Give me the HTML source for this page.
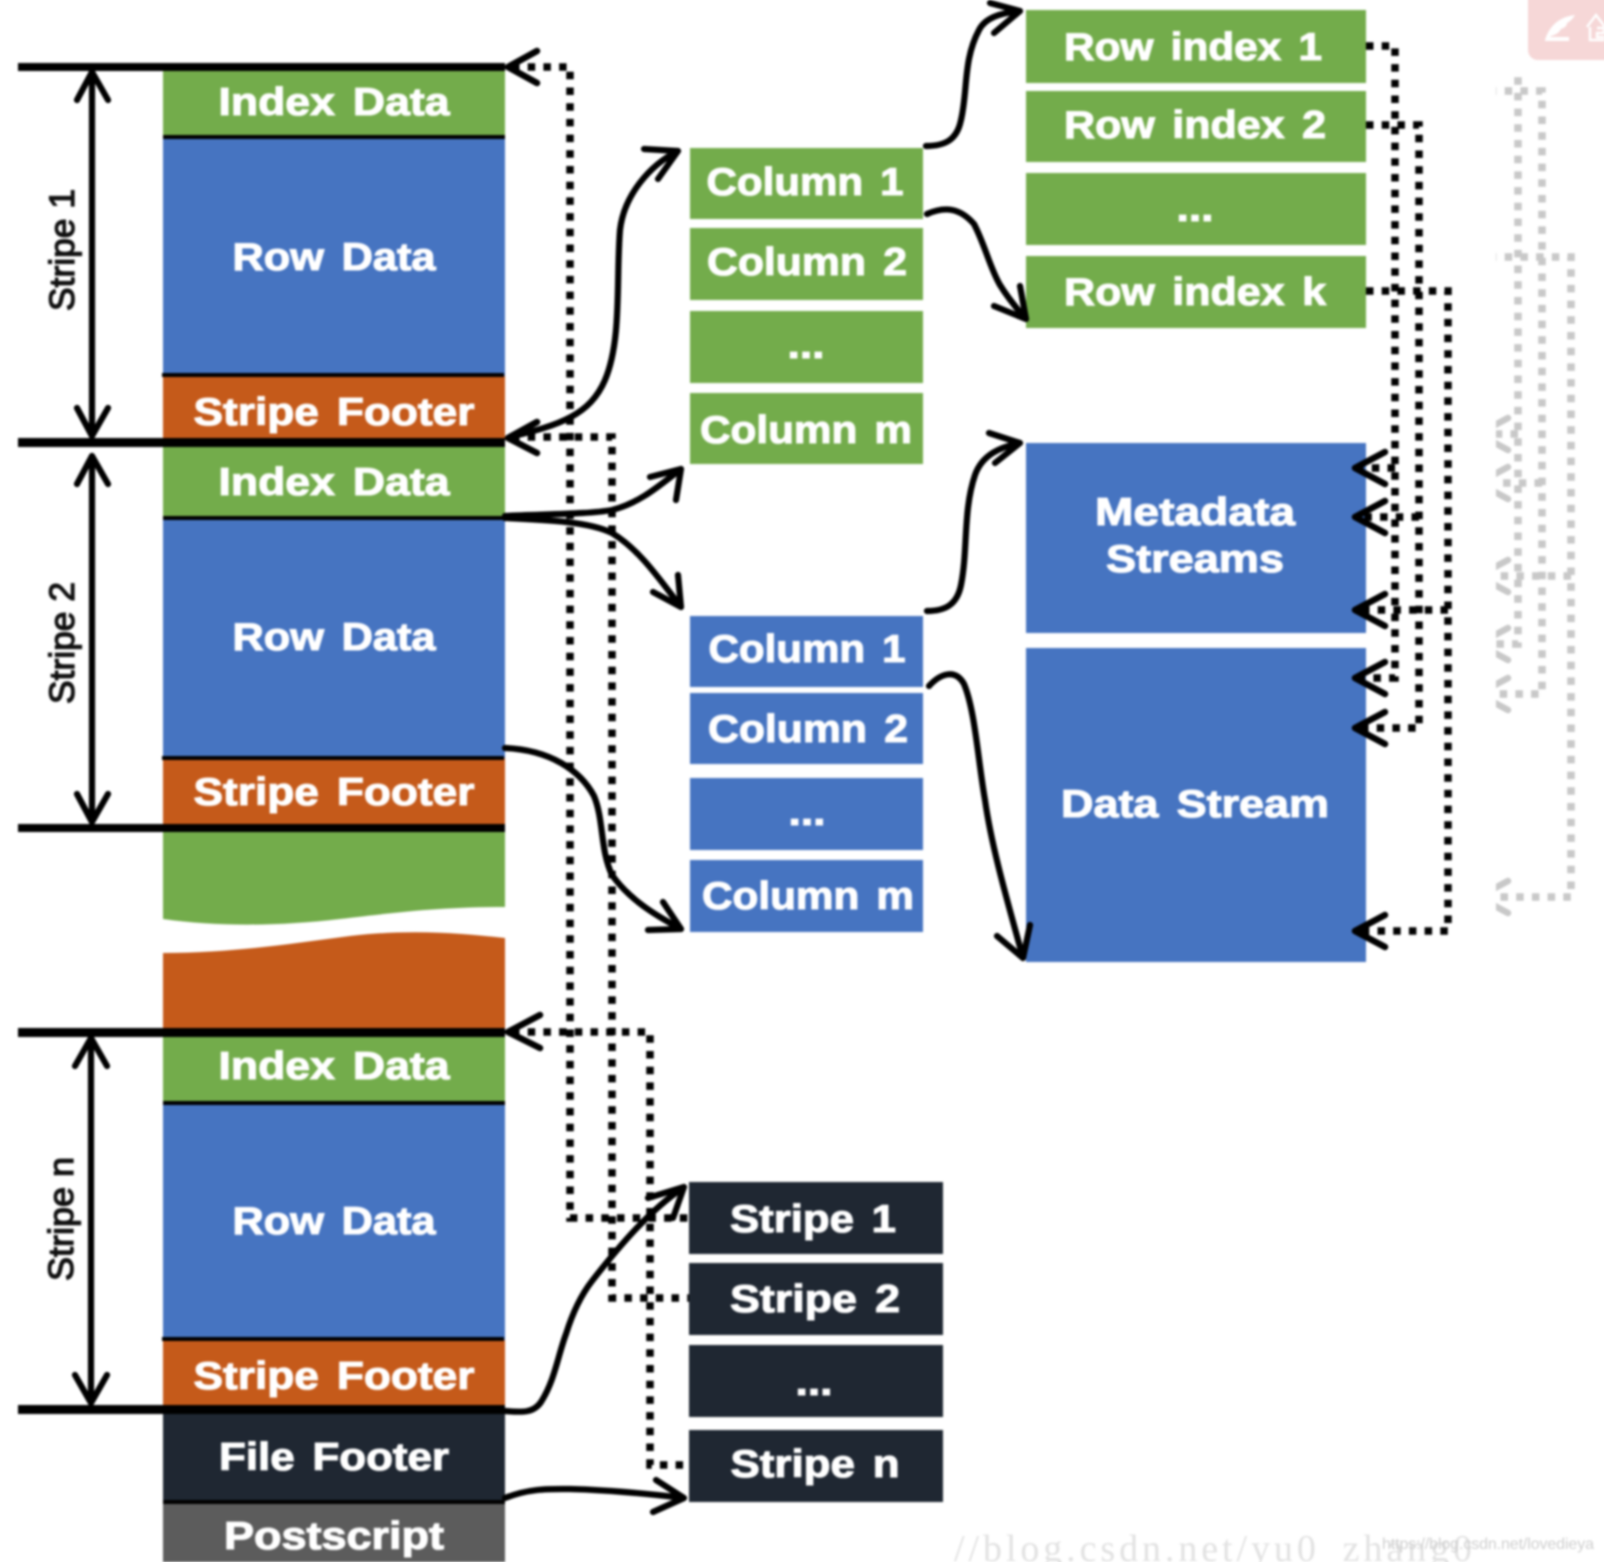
<!DOCTYPE html>
<html><head><meta charset="utf-8"><style>
html,body{margin:0;padding:0;background:#fff;width:1604px;height:1562px;overflow:hidden}
svg{display:block}
.w{font:bold 39px "Liberation Sans",sans-serif;fill:#fff;stroke:#fff;stroke-width:1.1;text-anchor:middle;word-spacing:5px}
.s{font:35px "Liberation Sans",sans-serif;fill:#111;stroke:#111;stroke-width:1.3;text-anchor:middle}
.dot{fill:none;stroke-width:7.5;stroke-dasharray:7.5 8.2}
.h{fill:none;stroke-width:6.5;stroke-linecap:round;stroke-linejoin:round}
.c{fill:none;stroke:#000;stroke-width:6.2;stroke-linecap:round;stroke-linejoin:round}
</style></head><body>
<svg width="1604" height="1562" viewBox="0 0 1604 1562" xmlns="http://www.w3.org/2000/svg">
<defs><clipPath id="gc"><rect x="1496" y="72" width="108" height="1000"/></clipPath></defs>
<g style="filter:blur(1px)">
<!-- watermark -->
<text x="954" y="1561" font-family="Liberation Serif,serif" font-size="38" fill="#e2e2e2" textLength="518">//blog.csdn.net/yu0_zhang0</text>
<text x="1382" y="1549" font-family="Liberation Sans,sans-serif" font-size="16" fill="#cfcfcf" textLength="212">https://blog.csdn.net/lovedieya</text>
<!-- pink box -->
<rect x="1528" y="-12" width="90" height="72" rx="10" fill="#f6d7d7"/>
<path d="M1545 40 C1549 27 1558 17 1575 15 C1572 20 1569 22 1567 23 C1567 27 1563 28 1561 29 C1559 33 1555 35 1551 36 L1550 37 H1569 V41 H1545 Z" fill="#fff"/>
<path d="M1587 27 L1596 15 L1605 27 M1590 27 V40 H1605 M1597 28 H1604 V33 H1597 V37 H1605" fill="none" stroke="#fff" stroke-width="2.4"/>
<!-- ghost copy of dotted routing -->
<g clip-path="url(#gc)">
<g transform="translate(123 -34)" stroke="#c8c8c8">
<path class="dot" d="M1366 46 H1395 V678 H1360"/>
<path class="dot" d="M1366 125 H1419 V728 H1360"/>
<path class="dot" d="M1366 291 H1448 V931 H1360"/>
<path class="dot" d="M1419 517 H1360"/>
<path class="dot" d="M1448 610 H1360"/>
<path class="dot" d="M1395 468 H1360"/>
<path class="h" d="M1385 452 L1355 468 L1385 484 M1385 501 L1355 517 L1385 533 M1385 594 L1355 610 L1385 626 M1385 662 L1355 678 L1385 694 M1385 712 L1355 728 L1385 744 M1385 915 L1355 931 L1385 947"/>
</g>
</g>
<!-- left column -->
<rect x="163" y="70" width="342" height="68" fill="#73ac4b"/>
<rect x="163" y="138" width="342" height="238" fill="#4674c1"/>
<rect x="163" y="376" width="342" height="64" fill="#c55a1a"/>
<rect x="163" y="440" width="342" height="78" fill="#73ac4b"/>
<rect x="163" y="518" width="342" height="240" fill="#4674c1"/>
<rect x="163" y="758" width="342" height="68" fill="#c55a1a"/>
<path d="M163 830 H505 V907 C440 907 400 912 340 919 C280 926 220 927 163 919 Z" fill="#73ac4b"/>
<path d="M163 953 C230 953 290 944 350 936 C410 929 460 933 505 938 V1032 H163 Z" fill="#c55a1a"/>
<rect x="163" y="1036" width="342" height="66" fill="#73ac4b"/>
<rect x="163" y="1102" width="342" height="238" fill="#4674c1"/>
<rect x="163" y="1340" width="342" height="68" fill="#c55a1a"/>
<rect x="163" y="1410" width="342" height="92" fill="#1f2732"/>
<rect x="163" y="1502" width="342" height="60" fill="#5c5c5c"/>
<!-- horizontal lines -->
<g fill="#000">
<rect x="18" y="63" width="487" height="8"/>
<rect x="18" y="438" width="487" height="9"/>
<rect x="18" y="824" width="487" height="8"/>
<rect x="18" y="1028" width="487" height="9"/>
<rect x="18" y="1405" width="487" height="9"/>
<rect x="163" y="135" width="342" height="4"/>
<rect x="162" y="373" width="342" height="4"/>
<rect x="163" y="516" width="342" height="4"/>
<rect x="162" y="756" width="342" height="4"/>
<rect x="163" y="1101" width="342" height="4"/>
<rect x="162" y="1337" width="342" height="4"/>
<rect x="163" y="1500" width="342" height="4"/>
</g>
<!-- column boxes -->
<g fill="#73ac4b">
<rect x="690" y="148" width="233" height="71"/><rect x="690" y="228" width="233" height="72"/><rect x="690" y="311" width="233" height="72"/><rect x="690" y="393" width="233" height="71"/>
<rect x="1026" y="10" width="340" height="73"/><rect x="1026" y="91" width="340" height="71"/><rect x="1026" y="173" width="340" height="72"/><rect x="1026" y="256" width="340" height="72"/>
</g>
<g fill="#4674c1">
<rect x="690" y="616" width="233" height="71"/><rect x="690" y="693" width="233" height="71"/><rect x="690" y="778" width="233" height="72"/><rect x="690" y="860" width="233" height="72"/>
<rect x="1026" y="443" width="340" height="190"/><rect x="1026" y="648" width="340" height="314"/>
</g>
<g fill="#1f2732">
<rect x="689" y="1182" width="254" height="72"/><rect x="689" y="1263" width="254" height="72"/><rect x="689" y="1345" width="254" height="72"/><rect x="689" y="1430" width="254" height="72"/>
</g>
<!-- labels -->
<text class="w" lengthAdjust="spacingAndGlyphs" x="334" y="115" textLength="231">Index Data</text>
<text class="w" lengthAdjust="spacingAndGlyphs" x="334" y="270" textLength="203">Row Data</text>
<text class="w" lengthAdjust="spacingAndGlyphs" x="334" y="425" textLength="281">Stripe Footer</text>
<text class="w" lengthAdjust="spacingAndGlyphs" x="334" y="495" textLength="231">Index Data</text>
<text class="w" lengthAdjust="spacingAndGlyphs" x="334" y="650" textLength="203">Row Data</text>
<text class="w" lengthAdjust="spacingAndGlyphs" x="334" y="805" textLength="281">Stripe Footer</text>
<text class="w" lengthAdjust="spacingAndGlyphs" x="334" y="1079" textLength="231">Index Data</text>
<text class="w" lengthAdjust="spacingAndGlyphs" x="334" y="1234" textLength="203">Row Data</text>
<text class="w" lengthAdjust="spacingAndGlyphs" x="334" y="1389" textLength="281">Stripe Footer</text>
<text class="w" lengthAdjust="spacingAndGlyphs" x="334" y="1470" textLength="230">File Footer</text>
<text class="w" lengthAdjust="spacingAndGlyphs" x="334" y="1549" textLength="220">Postscript</text>
<text class="w" lengthAdjust="spacingAndGlyphs" x="805" y="195" textLength="197">Column 1</text>
<text class="w" lengthAdjust="spacingAndGlyphs" x="807" y="275" textLength="200">Column 2</text>
<text class="w" lengthAdjust="spacingAndGlyphs" x="806" y="358" textLength="37">...</text>
<text class="w" lengthAdjust="spacingAndGlyphs" x="806" y="443" textLength="212">Column m</text>
<text class="w" lengthAdjust="spacingAndGlyphs" x="807" y="662" textLength="197">Column 1</text>
<text class="w" lengthAdjust="spacingAndGlyphs" x="808" y="742" textLength="200">Column 2</text>
<text class="w" lengthAdjust="spacingAndGlyphs" x="807" y="825" textLength="37">...</text>
<text class="w" lengthAdjust="spacingAndGlyphs" x="808" y="909" textLength="212">Column m</text>
<text class="w" lengthAdjust="spacingAndGlyphs" x="813" y="1232" textLength="166">Stripe 1</text>
<text class="w" lengthAdjust="spacingAndGlyphs" x="815" y="1312" textLength="170">Stripe 2</text>
<text class="w" lengthAdjust="spacingAndGlyphs" x="814" y="1395" textLength="37">...</text>
<text class="w" lengthAdjust="spacingAndGlyphs" x="815" y="1477" textLength="169">Stripe n</text>
<text class="w" lengthAdjust="spacingAndGlyphs" x="1193" y="60" textLength="258">Row index 1</text>
<text class="w" lengthAdjust="spacingAndGlyphs" x="1195" y="138" textLength="262">Row index 2</text>
<text class="w" lengthAdjust="spacingAndGlyphs" x="1195" y="221" textLength="37">...</text>
<text class="w" lengthAdjust="spacingAndGlyphs" x="1195" y="305" textLength="262">Row index k</text>
<text class="w" lengthAdjust="spacingAndGlyphs" x="1195" y="525" textLength="200">Metadata</text>
<text class="w" lengthAdjust="spacingAndGlyphs" x="1195" y="572" textLength="178">Streams</text>
<text class="w" lengthAdjust="spacingAndGlyphs" x="1195" y="817" textLength="268">Data Stream</text>
<text class="s" lengthAdjust="spacingAndGlyphs" transform="translate(74 250) rotate(-90)" textLength="122">Stripe 1</text>
<text class="s" lengthAdjust="spacingAndGlyphs" transform="translate(74 643) rotate(-90)" textLength="122">Stripe 2</text>
<text class="s" lengthAdjust="spacingAndGlyphs" transform="translate(73 1219) rotate(-90)" textLength="124">Stripe n</text>
<!-- stripe size arrows -->
<g class="c">
<path d="M92 72 V436 M77 100 L92 72 L108 100 M77 408 L92 436 L108 408"/>
<path d="M92 456 V822 M77 484 L92 456 L108 484 M77 794 L92 822 L108 794"/>
<path d="M91 1038 V1403 M75 1066 L91 1038 L107 1066 M75 1375 L91 1403 L107 1375"/>
</g>
<!-- dotted -->
<g stroke="#000">
<path class="dot" d="M512 67 H570 V1218 H689"/>
<path class="dot" d="M512 437 H612 V1298 H689"/>
<path class="dot" d="M512 1032 H650 V1465 H689"/>
<path class="dot" d="M1366 46 H1395 V678 H1360"/>
<path class="dot" d="M1366 125 H1419 V728 H1360"/>
<path class="dot" d="M1366 291 H1448 V931 H1360"/>
<path class="dot" d="M1395 468 H1360"/>
<path class="dot" d="M1419 517 H1360"/>
<path class="dot" d="M1448 610 H1360"/>
</g>
<!-- dotted heads -->
<g class="h" stroke="#000">
<path d="M537 51 L508 67 L537 83"/>
<path d="M537 422 L508 438 L537 453"/>
<path d="M540 1015 L508 1032 L540 1048"/>
<path d="M1385 452 L1355 468 L1385 484"/>
<path d="M1385 501 L1355 517 L1385 533"/>
<path d="M1385 594 L1355 610 L1385 626"/>
<path d="M1385 662 L1355 678 L1385 694"/>
<path d="M1385 712 L1355 728 L1385 744"/>
<path d="M1385 915 L1355 931 L1385 947"/>
</g>
<!-- curved arrows -->
<g class="c">
<path d="M510 437 C560 425 590 415 605 380 C622 340 616 280 620 230 C624 195 650 165 678 151 M644 149 L678 151 L658 179"/>
<path d="M505 516 C550 514 590 514 612 510 C640 503 660 485 681 469 M650 477 L681 469 L676 500"/>
<path d="M505 518 C550 520 590 522 612 533 C640 550 660 580 681 607 M653 592 L681 607 L678 575"/>
<path d="M505 748 C550 750 580 770 594 796 C604 820 600 850 612 875 C630 900 655 915 681 929 M648 930 L681 929 L663 902"/>
<path d="M505 1411 C520 1412 533 1414 541 1402 C555 1380 558 1355 566 1334 C575 1305 585 1290 592 1281 C620 1245 650 1210 684 1187 M648 1198 L684 1187 L673 1218"/>
<path d="M505 1498 C530 1488 550 1489 570 1489 C610 1490 650 1494 684 1498 M656 1480 L684 1498 L653 1512"/>
<path d="M926 146 C945 146 957 140 961 120 C968 90 963 60 979 30 C985 18 1000 13 1020 11 M990 3 L1020 11 L994 33"/>
<path d="M927 214 C945 206 960 208 974 224 C985 245 990 268 1000 285 C1008 298 1018 310 1026 319 M994 306 L1026 319 L1020 286"/>
<path d="M927 611 C945 611 957 605 961 585 C968 550 963 510 975 475 C982 455 1000 447 1020 443 M989 433 L1020 443 L995 463"/>
<path d="M929 686 C940 674 955 668 964 684 C975 710 978 760 985 800 C992 850 1010 910 1023 958 M997 936 L1023 958 L1030 925"/>
</g>
</g>
</svg>
</body></html>
